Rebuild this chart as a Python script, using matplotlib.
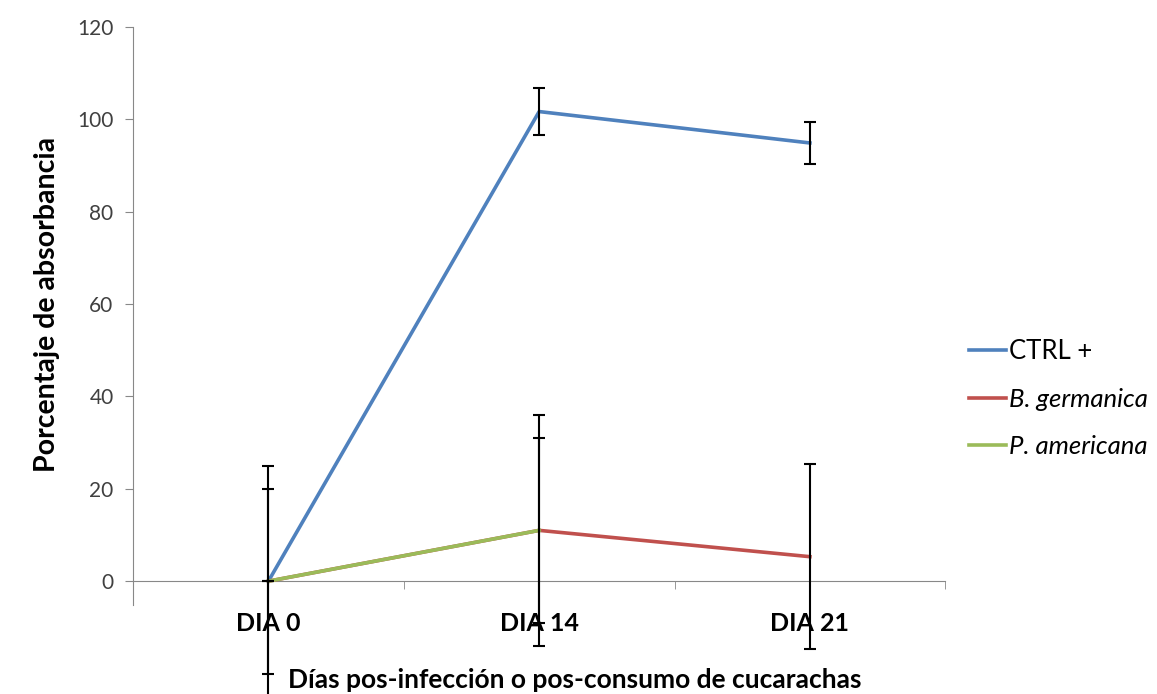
import numpy as np
import matplotlib.pyplot as plt

## data
dias = ["DIA 0", "DIA 14", "DIA 21"]
ctrl = [0, 101.7, 94.9]
ctrl_err = [0, 5.1, 4.6]
germanica = [0, 11, 5.3]
germanica_err = [20, 20, 20]
americana = [0, 11, np.nan]
americana_err = [25, 25, np.nan]

plt.rcParams['font.family'] = ['Lato', 'DejaVu Sans']

fig = plt.figure(figsize=(11.57, 6.94), dpi=100)
ax = fig.add_axes([0.115, 0.128, 0.702, 0.833])
x = np.arange(len(dias))

ax.plot(x, ctrl, color="#4F81BD", lw=2.6, label="CTRL +", zorder=3)
ax.plot(x, germanica, color="#C0504D", lw=2.6, label="B. germanica", zorder=3)
ax.plot(x, americana, color="#9BBB59", lw=2.6, label="P. americana", zorder=3)

## error bars
for vals, errs in [(ctrl, ctrl_err), (germanica, germanica_err), (americana, americana_err)]:
    ax.errorbar(x, vals, yerr=errs, fmt="none", ecolor="black", elinewidth=1.5,
                capsize=4, capthick=1.5, zorder=4, clip_on=False)

# spines first (set_position resets tick styling)
for s in ["top", "right"]:
    ax.spines[s].set_visible(False)
ax.spines["left"].set_color("#888888")
ax.spines["bottom"].set_color("#888888")
ax.spines["bottom"].set_position(("data", 0))

ax.set_xlim(-0.5, 2.5)
ax.set_ylim(-5.2, 120)
ax.set_yticks(range(0, 121, 20))
ax.tick_params(axis="y", labelsize=15, colors="#404040", length=6, color="#888888", pad=8)

ax.set_xticks([-0.5, 0.5, 1.5, 2.5], minor=True)
ax.tick_params(axis="x", which="minor", length=6, color="#888888")
ax.set_xticks(x)
ax.tick_params(axis="x", which="major", length=0, pad=22, labelsize=18, labelcolor="black")
ax.set_xticklabels(dias, fontweight="bold")

ax.set_ylabel("Porcentaje de absorbancia", fontsize=20.5, fontweight="bold")
ax.yaxis.set_label_coords(-0.09, 0.52)
fig.text(0.497, 0.02, "Días pos-infección o pos-consumo de cucarachas", fontsize=19,
         fontweight="bold", ha="center", va="center")

leg = ax.legend(loc="center left", bbox_to_anchor=(1.001, 0.358), frameon=False, fontsize=18.5,
                handlelength=1.45, handletextpad=0.1, labelspacing=0.93)
for t in leg.get_texts()[1:]:
    t.set_style("italic")

fig.savefig("out.png", dpi=100)
